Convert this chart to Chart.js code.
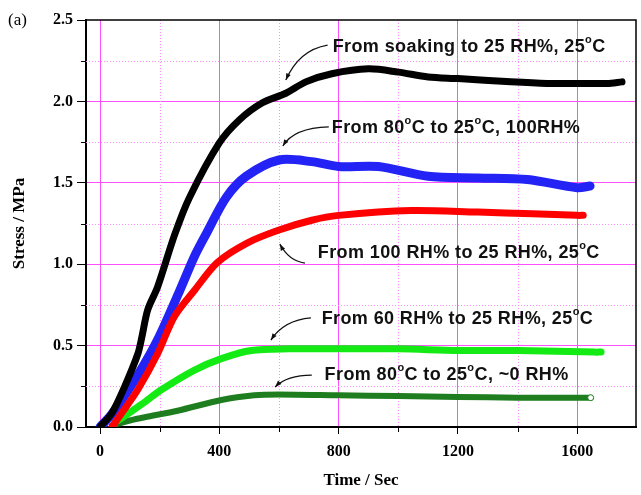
<!DOCTYPE html>
<html lang="en">
<head>
    <meta charset="UTF-8">
    <title>Stress vs Time</title>
    <script src="https://cdn.jsdelivr.net/npm/chart.js"></script>
    <style>
        html, body { margin: 0; padding: 0; background: #fff; }
        #wrap { width: 641px; height: 495px; }
    </style>
</head>
<body>
    <div id="wrap"><canvas id="stressChart" width="641" height="495"></canvas></div>

    <script>
        // series (time in s, stress in MPa)
        const soakX = [0, 40, 83, 127, 140, 160, 193, 250, 300, 400, 467, 543, 623, 690, 777, 900, 1000, 1100, 1200, 1377, 1500, 1600, 1700, 1750];
        const soakY = [0, 0.086, 0.25, 0.45, 0.55, 0.72, 0.86, 1.18, 1.41, 1.745, 1.886, 1.99, 2.05, 2.12, 2.17, 2.20, 2.18, 2.15, 2.14, 2.12, 2.11, 2.11, 2.11, 2.12];

        const hot100X = [0, 40, 130, 197, 263, 317, 357, 423, 490, 600, 710, 800, 933, 1100, 1267, 1433, 1600, 1643];
        const hot100Y = [0, 0.08, 0.33, 0.55, 0.82, 1.05, 1.19, 1.41, 1.54, 1.64, 1.63, 1.60, 1.60, 1.54, 1.53, 1.52, 1.47, 1.48];

        const rh100X = [40, 73, 127, 193, 250, 317, 393, 493, 600, 710, 800, 1043, 1267, 1450, 1600, 1620];
        const rh100Y = [0, 0.086, 0.23, 0.45, 0.68, 0.84, 1.01, 1.13, 1.21, 1.27, 1.30, 1.33, 1.32, 1.31, 1.30, 1.30];

        const rh60X = [50, 73, 140, 207, 317, 407, 507, 633, 800, 1000, 1200, 1400, 1657, 1680];
        const rh60Y = [0.03, 0.055, 0.14, 0.23, 0.35, 0.42, 0.47, 0.48, 0.48, 0.48, 0.47, 0.47, 0.46, 0.46];

        const dryX = [40, 100, 150, 260, 407, 517, 600, 800, 1000, 1200, 1400, 1645];
        const dryY = [0.01, 0.04, 0.06, 0.10, 0.166, 0.195, 0.20, 0.195, 0.19, 0.185, 0.18, 0.18];

        // axis ticks
        const xMajor = [0, 400, 800, 1200, 1600];
        const xMinor = [200, 600, 1000, 1400];
        const yMajor = [0, 0.5, 1.0, 1.5, 2.0, 2.5];
        const yMinor = [0.25, 0.75, 1.25, 1.75, 2.25];

        // labels with their arrows (data coords)
        const noteText = [
            'From soaking to 25 RH%, 25°C',
            'From 80°C to 25°C, 100RH%',
            'From 100 RH% to 25 RH%, 25°C',
            'From 60 RH% to 25 RH%, 25°C',
            'From 80°C to 25°C, ~0 RH%'
        ];
        const noteAt = [[780, 2.334], [777, 1.837], [730, 1.069], [743, 0.663], [753, 0.319]];
        const arrowFrom = [[763, 2.346], [767, 1.843], [687, 1.007], [707, 0.670], [710, 0.319]];
        const arrowBend = [[667, 2.316], [650, 1.837], [633, 1.020], [617, 0.657], [627, 0.319]];
        const arrowTo = [[623, 2.131], [613, 1.726], [603, 1.124], [573, 0.534], [587, 0.246]];

        const pts = (xs, ys) => xs.map((x, i) => ({ x: x, y: ys[i] }));

        const MAG = 'rgb(255, 80, 255)';
        const MAG_LIGHT = 'rgb(255, 140, 255)';

        // rich text with superscript "o" for degree sign
        function drawNote(ctx, text, x, y) {
            const parts = text.split('°');
            let cx = x;
            ctx.letterSpacing = '0.4px';
            parts.forEach((p, i) => {
                ctx.font = 'bold 18px "Liberation Sans", Arial, sans-serif';
                ctx.fillText(p, cx, y);
                cx += ctx.measureText(p).width;
                if (i < parts.length - 1) {
                    ctx.font = 'bold 11px "Liberation Sans", Arial, sans-serif';
                    ctx.fillText('o', cx, y - 7);
                    cx += ctx.measureText('o').width;
                }
            });
            ctx.letterSpacing = '0px';
        }

        const extras = {
            id: 'extras',
            beforeDatasetsDraw(chart) {
                const { ctx, chartArea: a, scales: { x, y } } = chart;
                ctx.save();
                ctx.strokeStyle = MAG_LIGHT;
                ctx.lineWidth = 1;
                ctx.setLineDash([1, 2]);
                xMinor.forEach(v => {
                    const px = Math.round(x.getPixelForValue(v)) + 0.5;
                    ctx.beginPath(); ctx.moveTo(px, a.top); ctx.lineTo(px, a.bottom); ctx.stroke();
                });
                yMinor.forEach(v => {
                    const py = Math.round(y.getPixelForValue(v)) + 0.5;
                    ctx.beginPath(); ctx.moveTo(a.left, py); ctx.lineTo(a.right, py); ctx.stroke();
                });
                ctx.setLineDash([]);
                // minor tick marks
                ctx.strokeStyle = '#000';
                xMinor.forEach(v => {
                    const px = Math.round(x.getPixelForValue(v)) + 0.5;
                    ctx.beginPath(); ctx.moveTo(px, a.bottom); ctx.lineTo(px, a.bottom + 5); ctx.stroke();
                });
                yMinor.forEach(v => {
                    const py = Math.round(y.getPixelForValue(v)) + 0.5;
                    ctx.beginPath(); ctx.moveTo(a.left, py); ctx.lineTo(a.left - 5, py); ctx.stroke();
                });
                ctx.restore();
            },
            afterDraw(chart) {
                const { ctx, chartArea: a, scales: { x, y } } = chart;
                ctx.save();
                // frame top/right
                ctx.strokeStyle = '#000';
                ctx.lineWidth = 1.5;
                ctx.beginPath();
                ctx.moveTo(a.left, a.top); ctx.lineTo(a.right, a.top); ctx.lineTo(a.right, a.bottom);
                ctx.stroke();

                // notes
                ctx.fillStyle = '#111';
                ctx.textBaseline = 'middle';
                ctx.textAlign = 'left';
                noteText.forEach((t, i) => {
                    drawNote(ctx, t, x.getPixelForValue(noteAt[i][0]), y.getPixelForValue(noteAt[i][1]));
                });

                // arrows
                ctx.strokeStyle = '#111';
                ctx.fillStyle = '#111';
                ctx.lineWidth = 1.3;
                noteText.forEach((t, i) => {
                    const x0 = x.getPixelForValue(arrowFrom[i][0]), y0 = y.getPixelForValue(arrowFrom[i][1]);
                    const xc = x.getPixelForValue(arrowBend[i][0]), yc = y.getPixelForValue(arrowBend[i][1]);
                    const x1 = x.getPixelForValue(arrowTo[i][0]), y1 = y.getPixelForValue(arrowTo[i][1]);
                    ctx.beginPath(); ctx.moveTo(x0, y0); ctx.quadraticCurveTo(xc, yc, x1, y1); ctx.stroke();
                    const ang = Math.atan2(y1 - yc, x1 - xc);
                    ctx.beginPath();
                    ctx.moveTo(x1, y1);
                    ctx.lineTo(x1 - 7 * Math.cos(ang - 0.35), y1 - 7 * Math.sin(ang - 0.35));
                    ctx.lineTo(x1 - 7 * Math.cos(ang + 0.35), y1 - 7 * Math.sin(ang + 0.35));
                    ctx.closePath(); ctx.fill();
                });

                // panel tag
                ctx.fillStyle = '#000';
                ctx.font = '17px "Liberation Serif", "Times New Roman", serif';
                ctx.textBaseline = 'middle';
                ctx.fillText('(a)', 8, 21);
                ctx.restore();
            }
        };

        const lineSet = (label, xs, ys, color, width) => ({
            label: label,
            data: pts(xs, ys),
            showLine: true,
            borderColor: color,
            backgroundColor: color,
            borderWidth: width || 6,
            pointRadius: 0,
            tension: 0.3,
            borderCapStyle: 'round',
            borderJoinStyle: 'round'
        });

        const drySet = lineSet(noteText[4], dryX, dryY, 'rgb(30, 125, 30)');
        drySet.pointRadius = ctx => ctx.dataIndex === dryX.length - 1 ? 3 : 0;
        drySet.pointBackgroundColor = '#fff';
        drySet.pointBorderColor = 'rgb(30, 125, 30)';
        drySet.pointBorderWidth = 1;

        const tickFont = { family: '"Liberation Serif", "Times New Roman", serif', size: 16, weight: 'bold' };
        const titleFont = { family: '"Liberation Serif", "Times New Roman", serif', size: 17, weight: 'bold' };

        new Chart(document.getElementById('stressChart'), {
            type: 'scatter',
            data: {
                datasets: [
                    lineSet(noteText[0], soakX, soakY, '#000', 7),
                    lineSet(noteText[2], rh100X, rh100Y, 'rgb(255, 0, 0)', 7),
                    lineSet(noteText[1], hot100X, hot100Y, 'rgb(35, 35, 245)', 9),
                    lineSet(noteText[1], hot100X, hot100Y, 'rgba(150, 150, 255, 0.75)', 2.5),
                    lineSet(noteText[3], rh60X, rh60Y, 'rgb(20, 235, 20)', 7),
                    drySet
                ]
            },
            options: {
                responsive: false,
                animation: false,
                layout: { padding: { top: 20, right: 2, left: 0, bottom: 0 } },
                plugins: { legend: { display: false }, tooltip: { enabled: false } },
                scales: {
                    x: {
                        type: 'linear',
                        min: -47,
                        max: 1797,
                        afterBuildTicks: s => { s.ticks = xMajor.map(v => ({ value: v })); },
                        afterFit: s => { s.height = 68; },
                        ticks: {
                            color: '#000',
                            font: tickFont,
                            padding: 8,
                            maxRotation: 0,
                            callback: v => String(v)
                        },
                        grid: { color: MAG, lineWidth: 1, tickColor: '#000', tickLength: 7 },
                        border: { color: '#000', width: 2 },
                        title: { display: true, text: 'Time / Sec', color: '#000', font: titleFont, padding: { top: 12 } }
                    },
                    y: {
                        type: 'linear',
                        min: 0,
                        max: 2.5,
                        afterBuildTicks: s => { s.ticks = yMajor.map(v => ({ value: v })); },
                        afterFit: s => { s.width = 86; },
                        ticks: {
                            color: '#000',
                            font: tickFont,
                            padding: 4,
                            callback: v => Number(v).toFixed(1)
                        },
                        grid: {
                            color: c => (c.tick && (c.tick.value === 0 || c.tick.value === 2.5)) ? 'rgba(0,0,0,0)' : MAG,
                            lineWidth: 1, tickColor: '#000', tickLength: 9
                        },
                        border: { color: '#000', width: 2 },
                        title: { display: true, text: 'Stress / MPa', color: '#000', font: titleFont, padding: { top: 9, bottom: 4 } }
                    }
                }
            },
            plugins: [extras]
        });
    </script>
</body>
</html>
